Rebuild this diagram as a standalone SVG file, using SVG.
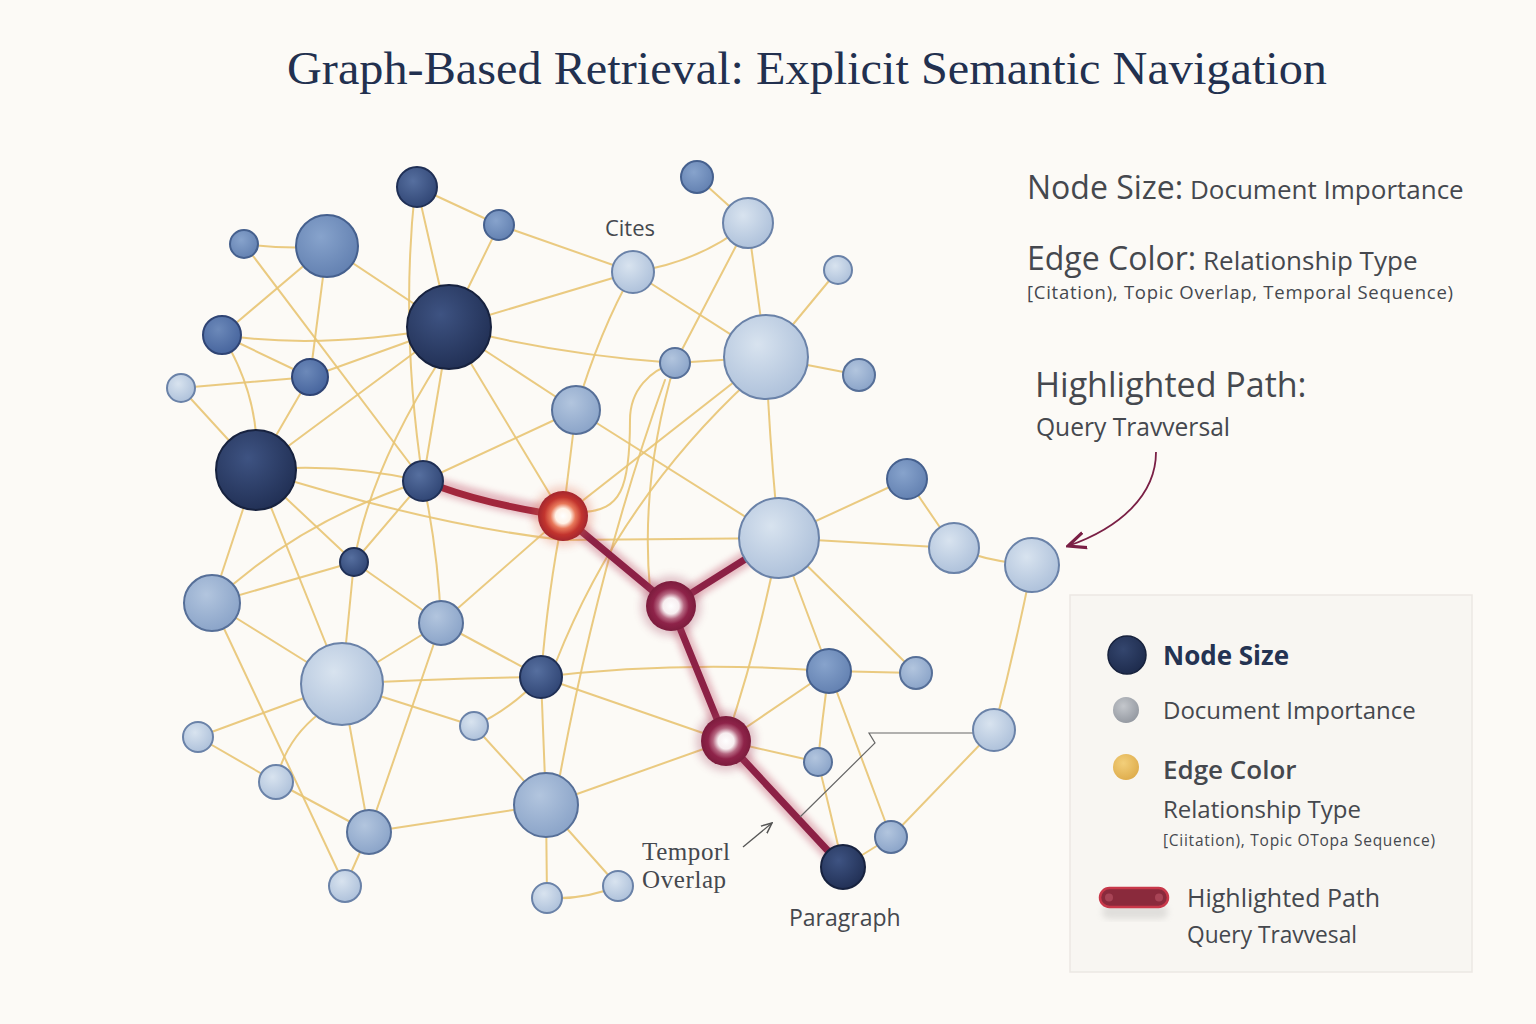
<svg xmlns="http://www.w3.org/2000/svg" width="1536" height="1024" viewBox="0 0 1536 1024">
<defs>
<style>
.e{fill:none;stroke:#e8c473;stroke-width:2;stroke-linecap:round;opacity:.9}
.hp{fill:none;stroke:#8c2145;stroke-width:7;stroke-linecap:round;stroke-linejoin:round}
.hg{fill:none;stroke:#b8405c;stroke-width:16;stroke-linecap:round;opacity:.35;filter:url(#blur)}
.navy{fill:url(#gNavy);stroke:#17223f;stroke-width:2}
.dark{fill:url(#gDark);stroke:#1f2f55;stroke-width:2}
.blue{fill:url(#gBlue);stroke:#2f4474;stroke-width:2}
.mid{fill:url(#gMid);stroke:#45608e;stroke-width:2}
.ml{fill:url(#gML);stroke:#566f98;stroke-width:2}
.lt{fill:url(#gLt);stroke:#6a82a8;stroke-width:2}
.sans{font-family:"Open Sans","Noto Sans","Liberation Sans",sans-serif;fill:#45484e}
.serif{font-family:"Liberation Serif","DejaVu Serif",serif}
</style>
<radialGradient id="gNavy" cx="0.4" cy="0.35" r="0.75"><stop offset="0" stop-color="#3e5382"/><stop offset="1" stop-color="#1e2c50"/></radialGradient>
<radialGradient id="gDark" cx="0.4" cy="0.35" r="0.75"><stop offset="0" stop-color="#566f9f"/><stop offset="1" stop-color="#2c4170"/></radialGradient>
<radialGradient id="gBlue" cx="0.4" cy="0.35" r="0.75"><stop offset="0" stop-color="#6c89b9"/><stop offset="1" stop-color="#42609a"/></radialGradient>
<radialGradient id="gMid" cx="0.4" cy="0.35" r="0.75"><stop offset="0" stop-color="#87a3cc"/><stop offset="1" stop-color="#5f7dae"/></radialGradient>
<radialGradient id="gML" cx="0.4" cy="0.35" r="0.75"><stop offset="0" stop-color="#b2c5de"/><stop offset="1" stop-color="#86a0c6"/></radialGradient>
<radialGradient id="gLt" cx="0.4" cy="0.35" r="0.75"><stop offset="0" stop-color="#d8e3ef"/><stop offset="1" stop-color="#a9bdd8"/></radialGradient>
<radialGradient id="gRed" cx="0.5" cy="0.5" r="0.5"><stop offset="0" stop-color="#ffffff"/><stop offset="0.3" stop-color="#fff2e6"/><stop offset="0.5" stop-color="#e8785a"/><stop offset="0.75" stop-color="#c2342e"/><stop offset="1" stop-color="#a3262e"/></radialGradient>
<radialGradient id="gMar" cx="0.5" cy="0.5" r="0.5"><stop offset="0" stop-color="#ffffff"/><stop offset="0.32" stop-color="#f7eef0"/><stop offset="0.52" stop-color="#b56680"/><stop offset="0.72" stop-color="#8e2349"/><stop offset="1" stop-color="#7c1c3d"/></radialGradient>
<radialGradient id="gLegNavy" cx="0.4" cy="0.35" r="0.75"><stop offset="0" stop-color="#34466e"/><stop offset="1" stop-color="#1b2849"/></radialGradient>
<radialGradient id="gLegGray" cx="0.4" cy="0.35" r="0.75"><stop offset="0" stop-color="#c4c7cc"/><stop offset="1" stop-color="#8f949c"/></radialGradient>
<radialGradient id="gLegGold" cx="0.4" cy="0.35" r="0.75"><stop offset="0" stop-color="#f3cf7a"/><stop offset="1" stop-color="#dca948"/></radialGradient>
<filter id="blur" x="-20%" y="-20%" width="140%" height="140%"><feGaussianBlur stdDeviation="3"/></filter>
<filter id="soft" x="-50%" y="-50%" width="200%" height="200%"><feGaussianBlur stdDeviation="4"/></filter>
<marker id="ahGray" viewBox="0 0 10 10" refX="9" refY="5" markerWidth="9" markerHeight="9" orient="auto-start-reverse"><path d="M0,1 L9,5 L0,9" fill="none" stroke="#555" stroke-width="1.3"/></marker>
<marker id="ahMar" viewBox="0 0 10 10" refX="9" refY="5" markerWidth="11" markerHeight="11" orient="auto-start-reverse"><path d="M0,1 L9,5 L0,9" fill="none" stroke="#7a1f45" stroke-width="1.6"/></marker>
</defs>
<rect width="1536" height="1024" fill="#fcfaf6"/>

<text x="807" y="84" text-anchor="middle" class="serif" font-size="46" fill="#22304f" textLength="1040" lengthAdjust="spacingAndGlyphs">Graph-Based Retrieval: Explicit Semantic Navigation</text>

<g id="connectors">
<path class="e" d="M417,187 L499,225"/>
<path class="e" d="M417,187 L449,327"/>
<path class="e" d="M415,190 Q400,330 423,481"/>
<path class="e" d="M327,246 Q290,250 244,244"/>
<path class="e" d="M327,246 L449,327"/>
<path class="e" d="M327,246 L222,335"/>
<path class="e" d="M327,246 L310,377"/>
<path class="e" d="M244,244 L423,481"/>
<path class="e" d="M222,335 Q320,350 449,327"/>
<path class="e" d="M222,335 L310,377"/>
<path class="e" d="M222,335 Q262,400 256,470"/>
<path class="e" d="M310,377 L449,327"/>
<path class="e" d="M181,388 L310,377"/>
<path class="e" d="M310,377 L256,470"/>
<path class="e" d="M181,388 L256,470"/>
<path class="e" d="M256,470 L449,327"/>
<path class="e" d="M449,327 L423,481"/>
<path class="e" d="M440,360 Q370,470 354,562"/>
<path class="e" d="M449,327 L576,410"/>
<path class="e" d="M449,327 L563,516"/>
<path class="e" d="M449,327 L633,272"/>
<path class="e" d="M449,327 Q560,355 675,363"/>
<path class="e" d="M499,225 L449,327"/>
<path class="e" d="M499,225 L633,272"/>
<path class="e" d="M423,481 L576,410"/>
<path class="e" d="M256,470 Q340,462 423,481"/>
<path class="e" d="M697,177 L748,223"/>
<path class="e" d="M748,223 Q700,262 633,272"/>
<path class="e" d="M748,223 L766,357"/>
<path class="e" d="M748,223 L675,363"/>
<path class="e" d="M633,272 L766,357"/>
<path class="e" d="M633,272 Q600,330 576,410"/>
<path class="e" d="M838,270 L766,357"/>
<path class="e" d="M766,357 L675,363"/>
<path class="e" d="M766,357 L859,375"/>
<path class="e" d="M766,357 Q770,450 779,538"/>
<path class="e" d="M766,357 L563,516"/>
<path class="e" d="M750,380 Q620,500 556,662"/>
<path class="e" d="M576,410 L563,516"/>
<path class="e" d="M576,410 L779,538"/>
<path class="e" d="M907,479 L779,538"/>
<path class="e" d="M256,470 Q430,525 563,540 L779,538"/>
<path class="e" d="M779,538 L954,548"/>
<path class="e" d="M954,548 L907,479"/>
<path class="e" d="M954,548 Q990,562 1032,565"/>
<path class="e" d="M1032,565 Q1015,650 994,730"/>
<path class="e" d="M779,538 L829,671"/>
<path class="e" d="M779,538 L916,673"/>
<path class="e" d="M779,538 Q760,640 726,741"/>
<path class="e" d="M829,671 L916,673"/>
<path class="e" d="M541,677 Q680,660 829,671"/>
<path class="e" d="M829,671 Q822,720 818,762"/>
<path class="e" d="M829,671 L891,837"/>
<path class="e" d="M829,671 L726,741"/>
<path class="e" d="M818,762 L726,741"/>
<path class="e" d="M818,762 Q830,810 843,867"/>
<path class="e" d="M891,837 L994,730"/>
<path class="e" d="M891,837 L843,867"/>
<path class="e" d="M541,677 L726,741"/>
<path class="e" d="M546,805 L726,741"/>
<path class="e" d="M546,805 L618,886"/>
<path class="e" d="M547,898 Q585,900 618,886"/>
<path class="e" d="M546,805 L547,898"/>
<path class="e" d="M256,470 L212,603"/>
<path class="e" d="M256,470 L342,684"/>
<path class="e" d="M256,470 L354,562"/>
<path class="e" d="M423,481 Q300,520 212,603"/>
<path class="e" d="M423,481 L354,562"/>
<path class="e" d="M423,481 Q438,550 441,623"/>
<path class="e" d="M354,562 L212,603"/>
<path class="e" d="M354,562 L441,623"/>
<path class="e" d="M354,562 L342,684"/>
<path class="e" d="M212,603 L342,684"/>
<path class="e" d="M212,603 L345,886"/>
<path class="e" d="M441,623 L563,516"/>
<path class="e" d="M441,623 L342,684"/>
<path class="e" d="M441,623 L541,677"/>
<path class="e" d="M441,623 L369,832"/>
<path class="e" d="M342,684 Q440,678 541,677"/>
<path class="e" d="M342,684 L198,737"/>
<path class="e" d="M320,713 Q285,740 276,782"/>
<path class="e" d="M342,684 L369,832"/>
<path class="e" d="M342,684 L474,726"/>
<path class="e" d="M198,737 L276,782"/>
<path class="e" d="M276,782 L369,832"/>
<path class="e" d="M369,832 L345,886"/>
<path class="e" d="M369,832 L546,805"/>
<path class="e" d="M541,677 Q510,710 474,726"/>
<path class="e" d="M474,726 L546,805"/>
<path class="e" d="M541,677 Q548,590 563,516"/>
<path class="e" d="M541,677 L546,805"/>
<path class="e" d="M675,363 Q640,480 650,590"/>
<path class="e" d="M665,380 Q600,560 560,775"/>
<path class="e" d="M583,512 C620,510 630,490 630,420 C630,390 650,370 675,363"/>
</g>

<g id="highlight-path">
<path class="hg" d="M423,481 Q480,500 563,516 L671,606 L726,741 L843,867 M671,606 L779,538"/>
<path class="hp" d="M440,487 Q490,505 563,516" style="stroke:#a1273c"/>
<path class="hp" d="M563,516 L671,606 L726,741 L843,867 M671,606 L779,538"/>
</g>

<g id="callouts">
<path d="M800,817 L875,743 L869,733 L975,733" fill="none" stroke="#666" stroke-width="1.2"/>
<path d="M743,847 L772,823" fill="none" stroke="#555" stroke-width="1.3" marker-end="url(#ahGray)"/>
<path d="M1156,452 C1156,495 1120,528 1068,546" fill="none" stroke="#7a1f45" stroke-width="1.8" marker-end="url(#ahMar)"/>
</g>

<g id="n1"><circle cx="417" cy="187" r="20" class="dark"/></g>
<g id="n2"><circle cx="327" cy="246" r="31" class="mid"/></g>
<g id="n3"><circle cx="244" cy="244" r="14" class="mid"/></g>
<g id="n4"><circle cx="499" cy="225" r="15" class="mid"/></g>
<g id="n5"><circle cx="449" cy="327" r="42" class="navy"/></g>
<g id="n6"><circle cx="222" cy="335" r="19" class="blue"/></g>
<g id="n7"><circle cx="310" cy="377" r="18" class="blue"/></g>
<g id="n8"><circle cx="181" cy="388" r="14" class="lt"/></g>
<g id="n9"><circle cx="256" cy="470" r="40" class="navy"/></g>
<g id="n10"><circle cx="423" cy="481" r="20" class="dark"/></g>
<g id="n11"><circle cx="697" cy="177" r="16" class="mid"/></g>
<g id="n12"><circle cx="748" cy="223" r="25" class="lt"/></g>
<g id="n13"><circle cx="633" cy="272" r="21" class="lt"/></g>
<g id="n14"><circle cx="838" cy="270" r="14" class="lt"/></g>
<g id="n15"><circle cx="766" cy="357" r="42" class="lt"/></g>
<g id="n16"><circle cx="675" cy="363" r="15" class="ml"/></g>
<g id="n17"><circle cx="859" cy="375" r="16" class="ml"/></g>
<g id="n18"><circle cx="576" cy="410" r="24" class="ml"/></g>
<g id="n20"><circle cx="354" cy="562" r="14" class="dark"/></g>
<g id="n21"><circle cx="212" cy="603" r="28" class="ml"/></g>
<g id="n22"><circle cx="441" cy="623" r="22" class="ml"/></g>
<g id="n23"><circle cx="342" cy="684" r="41" class="lt"/></g>
<g id="n24"><circle cx="198" cy="737" r="15" class="lt"/></g>
<g id="n25"><circle cx="276" cy="782" r="17" class="lt"/></g>
<g id="n26"><circle cx="369" cy="832" r="22" class="ml"/></g>
<g id="n27"><circle cx="345" cy="886" r="16" class="lt"/></g>
<g id="n28"><circle cx="541" cy="677" r="21" class="dark"/></g>
<g id="n29"><circle cx="474" cy="726" r="14" class="lt"/></g>
<g id="n30"><circle cx="546" cy="805" r="32" class="ml"/></g>
<g id="n31"><circle cx="547" cy="898" r="15" class="lt"/></g>
<g id="n32"><circle cx="618" cy="886" r="15" class="lt"/></g>
<g id="n35"><circle cx="779" cy="538" r="40" class="lt"/></g>
<g id="n36"><circle cx="907" cy="479" r="20" class="mid"/></g>
<g id="n37"><circle cx="954" cy="548" r="25" class="lt"/></g>
<g id="n38"><circle cx="1032" cy="565" r="27" class="lt"/></g>
<g id="n39"><circle cx="829" cy="671" r="22" class="mid"/></g>
<g id="n40"><circle cx="916" cy="673" r="16" class="ml"/></g>
<g id="n41"><circle cx="818" cy="762" r="14" class="ml"/></g>
<g id="n42"><circle cx="994" cy="730" r="21" class="lt"/></g>
<g id="n43"><circle cx="891" cy="837" r="16" class="ml"/></g>
<g id="n44"><circle cx="843" cy="867" r="22" class="navy"/></g>
<g id="n19"><circle cx="563" cy="516" r="30" fill="#e06a50" opacity="0.3" filter="url(#soft)"/><circle cx="563" cy="516" r="25" fill="url(#gRed)"/></g>
<g id="n33"><circle cx="671" cy="606" r="30" fill="#a0405e" opacity="0.3" filter="url(#soft)"/><circle cx="671" cy="606" r="25" fill="url(#gMar)"/></g>
<g id="n34"><circle cx="726" cy="741" r="30" fill="#a0405e" opacity="0.3" filter="url(#soft)"/><circle cx="726" cy="741" r="25" fill="url(#gMar)"/></g>

<g id="labels">
<text x="630" y="236" text-anchor="middle" class="sans" font-size="22">Cites</text>
<text x="642" y="860" class="serif" font-size="25" fill="#45484e" letter-spacing="0.6">Temporl</text>
<text x="642" y="888" class="serif" font-size="25" fill="#45484e" letter-spacing="0.6">Overlap</text>
<text x="789" y="926" class="sans" font-size="23">Paragraph</text>
</g>

<g id="key-text">
<text x="1027" y="199" class="sans"><tspan font-size="32">Node Size:</tspan><tspan font-size="26"> Document Importance</tspan></text>
<text x="1027" y="270" class="sans"><tspan font-size="32">Edge Color:</tspan><tspan font-size="26"> Relationship Type</tspan></text>
<text x="1027" y="299" class="sans" font-size="18.5" textLength="426" lengthAdjust="spacing">[Citation), Topic Overlap, Temporal Sequence)</text>
<text x="1035" y="397" class="sans" font-size="34">Highlighted Path:</text>
<text x="1036" y="436" class="sans" font-size="26" textLength="194" lengthAdjust="spacingAndGlyphs">Query Travversal</text>
</g>

<g id="legend">
<rect x="1070" y="595" width="402" height="377" fill="#f8f6f2" stroke="#ebe8e3" stroke-width="1.5"/>
<circle cx="1127" cy="655" r="19" fill="url(#gLegNavy)" stroke="#16213c" stroke-width="1.5"/>
<text x="1163" y="665" class="sans" font-size="26" font-weight="700" style="fill:#243352">Node Size</text>
<circle cx="1126" cy="710" r="13" fill="url(#gLegGray)"/>
<text x="1163" y="719" class="sans" font-size="24">Document Importance</text>
<circle cx="1126" cy="767" r="13" fill="url(#gLegGold)"/>
<text x="1163" y="779" class="sans" font-size="26" font-weight="600">Edge Color</text>
<text x="1163" y="818" class="sans" font-size="24">Relationship Type</text>
<text x="1163" y="846" class="sans" font-size="15.5" textLength="272" lengthAdjust="spacing">[Ciitation), Topic OTopa Sequence)</text>
<rect x="1102" y="905" width="66" height="14" rx="7" fill="#999" opacity="0.25" filter="url(#blur)"/>
<rect x="1100" y="888" width="68" height="19" rx="9.5" fill="#8a2a3c" stroke="#c8384a" stroke-width="2.5"/>
<circle cx="1109" cy="897.5" r="4" fill="#a84456"/>
<circle cx="1159" cy="897.5" r="4" fill="#a84456"/>
<text x="1187" y="907" class="sans" font-size="25">Highlighted Path</text>
<text x="1187" y="943" class="sans" font-size="24" textLength="170" lengthAdjust="spacingAndGlyphs">Query Travvesal</text>
</g>
</svg>
